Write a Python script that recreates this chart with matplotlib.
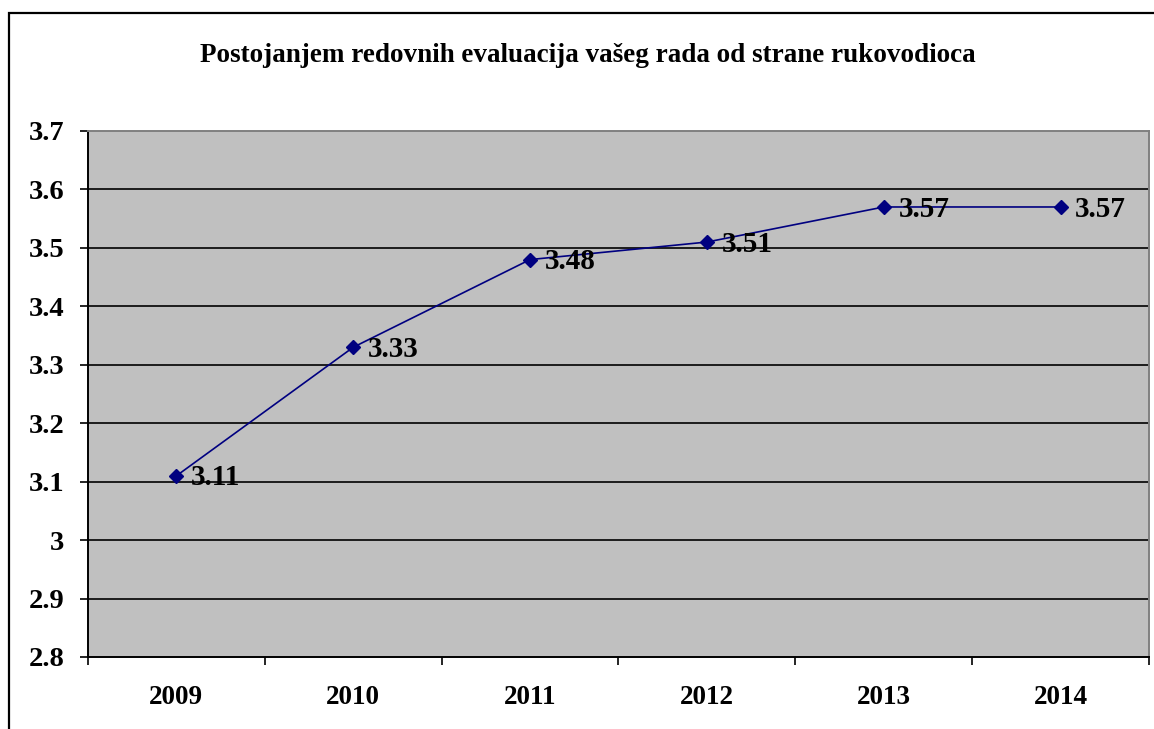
import matplotlib
matplotlib.use('Agg')
import matplotlib.pyplot as plt
from matplotlib.patches import Rectangle
import numpy as np

years = ["2009", "2010", "2011", "2012", "2013", "2014"]
scores = [3.11, 3.33, 3.48, 3.51, 3.57, 3.57]
y_ticks = [2.8, 2.9, 3.0, 3.1, 3.2, 3.3, 3.4, 3.5, 3.6, 3.7]
y_tick_labels = ["2.8", "2.9", "3", "3.1", "3.2", "3.3", "3.4", "3.5", "3.6", "3.7"]
title = "Postojanjem redovnih evaluacija vašeg rada od strane rukovodioca"

plt.rcParams['font.family'] = ['Liberation Serif', 'DejaVu Serif']
plt.rcParams['font.weight'] = 'bold'

fig = plt.figure(figsize=(11.54, 7.29), dpi=100)
ax = fig.add_axes([88/1154, 1 - 657/729, (1149-88)/1154, (657-131)/729])

# outer chart frame (cut off on right and bottom)
fig.patches.append(Rectangle((9/1154, -0.1), 1.2, 1.1 - 13/729, transform=fig.transFigure,
                             fill=False, edgecolor='black', linewidth=1.6))

ax.set_facecolor('#c0c0c0')
x = np.arange(len(years))
ax.set_xlim(-0.5, len(years) - 0.5)
ax.set_ylim(2.8, 3.7)

for yv in y_ticks[1:-1]:
    ax.axhline(yv, color='black', linewidth=1.2, zorder=1)

ax.plot(x, scores, color='#000080', linewidth=1.2, marker='D', markersize=7.5,
        markerfacecolor='#000080', markeredgecolor='#000080', zorder=3)

for xi, v in zip(x, scores):
    ax.annotate(f"{v:.2f}", (xi, v), xytext=(10.5, -1.5), textcoords='offset points',
                ha='left', va='center', fontsize=21, fontweight='bold', zorder=4)

ax.set_yticks(y_ticks)
ax.set_yticklabels(y_tick_labels, fontsize=20.5, fontweight='bold')
ax.tick_params(axis='y', direction='out', length=6, width=1.2, pad=11)

ax.set_xticks(x)
ax.set_xticklabels(years, fontsize=19.5, fontweight='bold')
ax.set_xticks(np.arange(-0.5, len(years)), minor=True)
ax.tick_params(axis='x', which='major', length=0, pad=20)
ax.tick_params(axis='x', which='minor', direction='out', length=6, width=1.2)

ax.spines['left'].set_color('black')
ax.spines['bottom'].set_color('black')
ax.spines['left'].set_linewidth(1.4)
ax.spines['bottom'].set_linewidth(1.4)
ax.spines['top'].set_color('#808080')
ax.spines['right'].set_color('#808080')
ax.spines['top'].set_linewidth(1.4)
ax.spines['right'].set_linewidth(1.4)

fig.text(588/1154, 1 - 55/729, title, ha='center', va='center', fontsize=19.5, fontweight='bold')

fig.savefig('out.png', dpi=100)
